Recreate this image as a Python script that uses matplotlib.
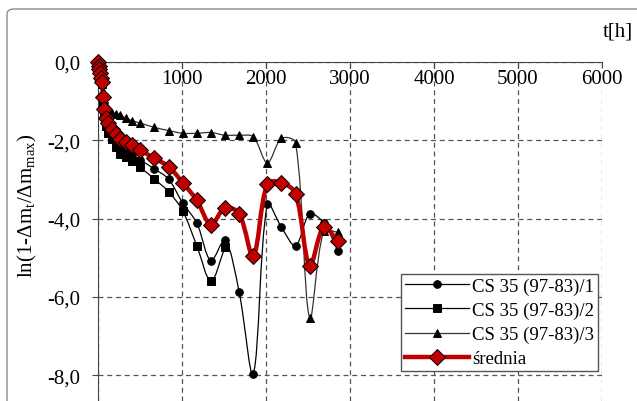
import numpy as np
import matplotlib
matplotlib.use('Agg')
import matplotlib.pyplot as plt
from matplotlib.path import Path
from matplotlib.patches import PathPatch, FancyBboxPatch
from matplotlib.lines import Line2D

plt.rcParams['font.family'] = ['Liberation Serif', 'DejaVu Serif']
plt.rcParams['mathtext.fontset'] = 'custom'
plt.rcParams['mathtext.rm'] = 'Liberation Serif'

# czas [h]
t = [0, 8, 16, 24, 36, 48, 60, 72, 96, 120, 168, 216, 264, 336, 408, 504,
     672, 840, 1008, 1176, 1344, 1512, 1680, 1848, 2016, 2184, 2352, 2520,
     2688, 2856]

# probka 1 (kolka)
s1 = [0, -0.09, -0.19, -0.30, -0.42, -0.53, -0.95, -1.27, -1.53, -1.70,
      -1.84, -2.00, -2.18, -2.25, -2.35, -2.50, -2.73, -2.99, -3.60, -4.11,
      -5.07, -4.55, -5.87, -7.97, -3.63, -4.22, -4.69, -3.88, -4.11, -4.82]

# probka 2 (kwadraty) - konczy sie na 1512 h
t2 = t[:22]
s2 = [0, -0.10, -0.21, -0.32, -0.44, -0.56, -1.00, -1.35, -1.63, -1.81,
      -1.97, -2.16, -2.34, -2.43, -2.54, -2.69, -2.99, -3.31, -3.80, -4.69,
      -5.59, -4.73]

# probka 3 (trojkaty)
s3 = [0, -0.08, -0.17, -0.25, -0.34, -0.44, -0.75, -0.95, -1.10, -1.20,
      -1.29, -1.33, -1.36, -1.44, -1.50, -1.56, -1.67, -1.75, -1.82, -1.82,
      -1.80, -1.87, -1.87, -1.91, -2.57, -1.95, -2.06, -6.54, -4.31, -4.35]

# srednia
sr = [0, -0.09, -0.19, -0.29, -0.40, -0.51, -0.90, -1.19, -1.42, -1.57,
      -1.70, -1.83, -1.96, -2.04, -2.13, -2.25, -2.46, -2.67, -3.08, -3.53,
      -4.15, -3.72, -3.87, -4.95, -3.11, -3.08, -3.36, -5.20, -4.21, -4.58]

labels = ['CS 35 (97-83)/1', 'CS 35 (97-83)/2', 'CS 35 (97-83)/3', 'średnia']
xticks = [0, 1000, 2000, 3000, 4000, 5000, 6000]
yticks = [0, -2, -4, -6, -8]

# skala px na jednostke (do liczenia dlugosci odcinkow)
kx, ky = 0.084, 39.17


def smooth_path(x, y):
    # wygladzona linia (krzywe Beziera), styczne skalowane dlugoscia odcinkow
    p = np.column_stack([x, y]).astype(float)
    n = len(p)
    d = np.hypot(np.diff(p[:, 0]) * kx, np.diff(p[:, 1]) * ky)
    d = np.maximum(d, 1e-6)
    tang = np.zeros_like(p)
    for i in range(n):
        if i == 0:
            tang[i] = p[1] - p[0]
        elif i == n - 1:
            tang[i] = p[-1] - p[-2]
        else:
            tang[i] = (p[i + 1] - p[i - 1]) / (d[i - 1] + d[i])
    verts = [p[0]]
    codes = [Path.MOVETO]
    for i in range(n - 1):
        if i == 0:
            c1 = p[0] + (p[1] - p[0]) / 3.0
        else:
            c1 = p[i] + tang[i] * d[i] / 3.0
        if i + 1 == n - 1:
            c2 = p[i + 1] - (p[i + 1] - p[i]) / 3.0
        else:
            c2 = p[i + 1] - tang[i + 1] * d[i] / 3.0
        verts += [c1, c2, p[i + 1]]
        codes += [Path.CURVE4] * 3
    return Path(verts, codes)


fig = plt.figure(figsize=(6.37, 4.02), dpi=100)
ax = fig.add_axes([98 / 637, 0.0, 504 / 637, 1 - 63 / 402])

# ramka wykresu
fig.patches.append(FancyBboxPatch((7 / 637, -0.2), 1.2, 0.2 + 1 - 10 / 402,
                                  boxstyle='round,pad=0,rounding_size=0.012',
                                  transform=fig.transFigure, fill=False,
                                  edgecolor='#8a8a8a', linewidth=1.0))

series = [
    (t, s1, 'black', 0.9, 'o', 5.5, 'black', 3),
    (t2, s2, 'black', 0.9, 's', 6.0, 'black', 3),
    (t, s3, '#333333', 0.9, '^', 5.8, 'black', 3),
    (t, sr, '#c00000', 3.2, 'D', 7.8, '#c00000', 5),
]
handles = []
for (x, y, col, lw, mk, ms, mfc, z) in series:
    ax.add_patch(PathPatch(smooth_path(x, y), facecolor='none', edgecolor=col,
                           linewidth=lw, zorder=z, capstyle='round'))
    ax.plot(x, y, linestyle='none', marker=mk, markersize=ms,
            markerfacecolor=mfc, markeredgecolor='black', markeredgewidth=0.7,
            zorder=z + 0.5, clip_on=False)
    handles.append(Line2D([], [], color=col, linewidth=lw, marker=mk,
                          markersize=ms, markerfacecolor=mfc,
                          markeredgecolor='black', markeredgewidth=0.7))

ax.set_xlim(0, 6000)
ax.set_ylim(-(402 - 63) / 39.17, 0)
ax.set_xticks(xticks)
ax.set_yticks(yticks)
ax.set_yticklabels([('%.1f' % v).replace('.', ',') for v in yticks])

ax.grid(True, linestyle=(0, (4, 3)), color='#555555', linewidth=0.9)
ax.set_axisbelow(True)

for s in ['right', 'bottom']:
    ax.spines[s].set_visible(False)
ax.spines['left'].set_color('#444444')
ax.spines['top'].set_color('#444444')

ax.tick_params(axis='x', top=True, bottom=False, labeltop=True,
               labelbottom=False, direction='in', length=4, pad=-19,
               labelsize=15, color='#444444')
ax.tick_params(axis='y', direction='out', length=4.5, pad=8.5,
               labelsize=15, color='#444444')

ax.set_ylabel('ln(1-Δm$_\\mathrm{t}$/Δm$_\\mathrm{max}$)', fontsize=15)
ax.yaxis.set_label_coords(-0.118, 0.58)

fig.text(618 / 637, 1 - 32 / 402, 't[h]', fontsize=15, ha='center',
         va='center')

leg = ax.legend(handles, labels, loc='lower right',
                bbox_to_anchor=(598 / 637, 1 - 372 / 402),
                bbox_transform=fig.transFigure, fontsize=13.5,
                frameon=True, fancybox=False, edgecolor='#555555',
                framealpha=1, borderaxespad=0, handlelength=3.4,
                handletextpad=0.2, labelspacing=0.37, borderpad=0.2)
leg.get_frame().set_linewidth(1.0)
leg.set_zorder(10)

fig.savefig('out.png', dpi=100)
